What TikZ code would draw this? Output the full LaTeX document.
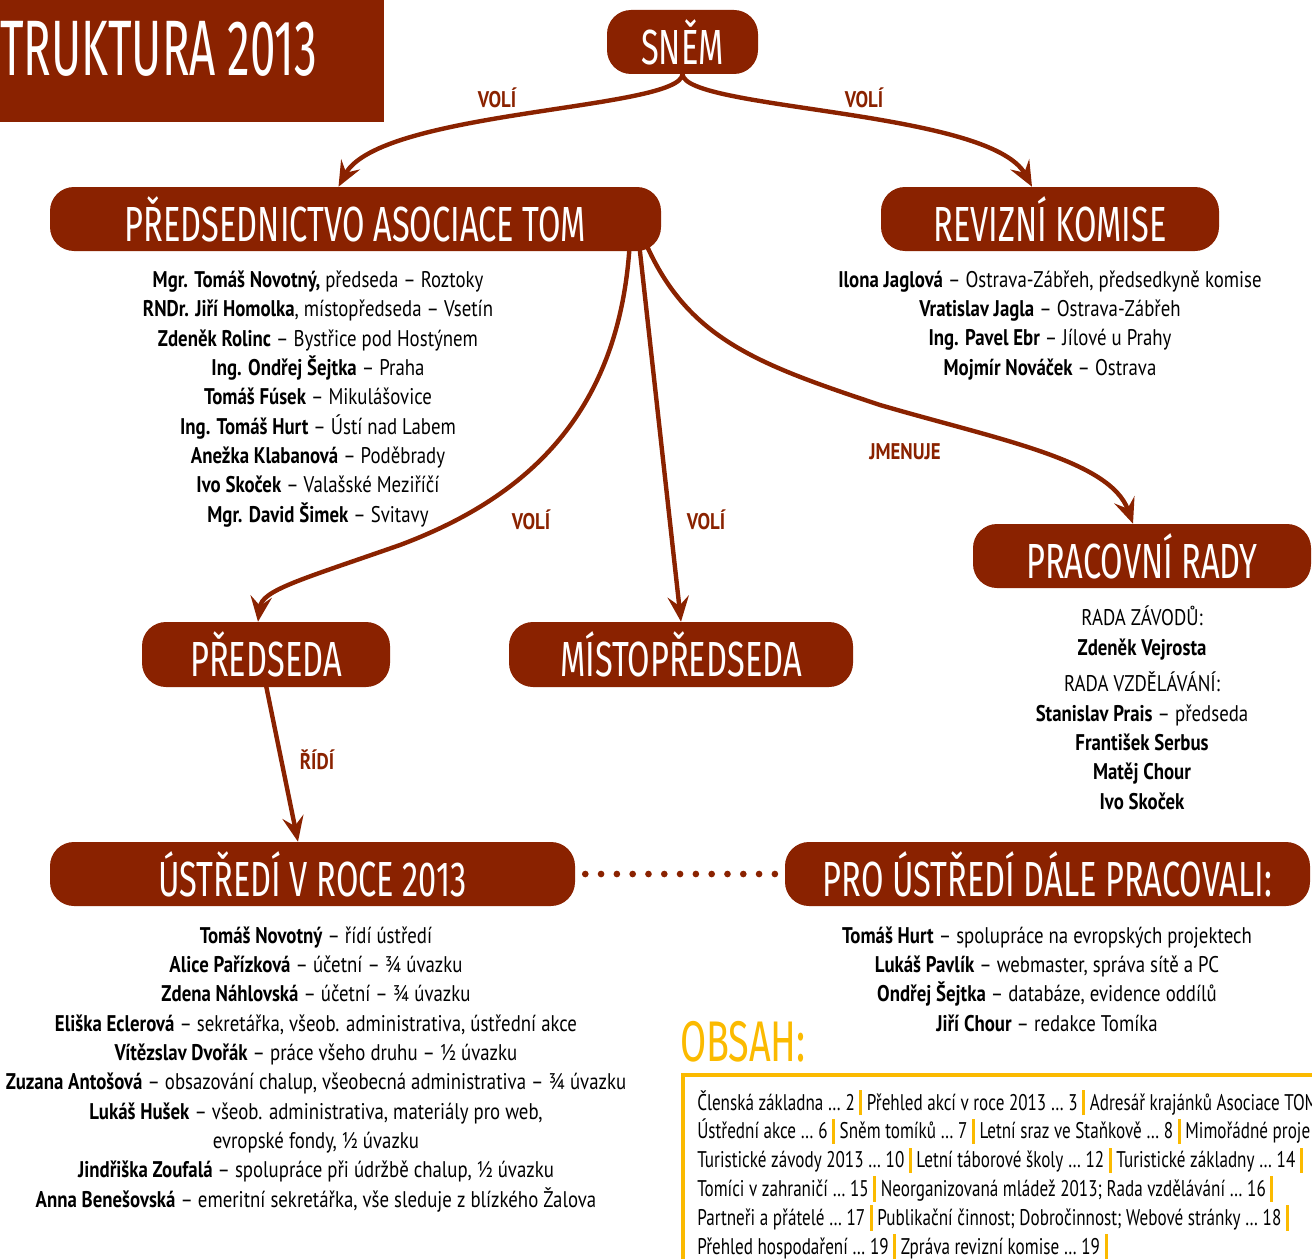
\documentclass[tikz,border=0pt]{standalone}
\usepackage{fontspec}
\setmainfont{PT Sans}[FakeStretch=0.83]
\newfontfamily\obsahfont{PT Sans}[FakeStretch=0.755]
\newfontfamily\headfont{Fira Sans}[FakeStretch=0.66]
\newfontfamily\titlefont{Fira Sans}[FakeStretch=0.58]
\usetikzlibrary{arrows.meta,calc}
\definecolor{tomred}{RGB}{138,34,0}
\definecolor{obsahyellow}{RGB}{251,186,0}
\newcommand\obsahsep{{\color{obsahyellow}\rule[-4pt]{2.2pt}{19pt}}}

\begin{document}
\begin{tikzpicture}[x=0.75pt,y=0.75pt,yscale=-1,xscale=1,
		headbox/.style={fill=tomred, text=white, rounded corners=18pt, inner sep=0pt, minimum height=48pt, font=\headfont\fontsize{37}{40}\selectfont},
		people/.style={anchor=base, align=center, inner sep=0pt, font=\fontsize{17}{22}\selectfont},
		relation/.style={text=tomred, font=\bfseries\fontsize{17}{20}\selectfont},
		link/.style={draw=tomred, line width=3.3pt, -{Stealth[length=19pt,width=16pt,inset=7pt]}}]
		\useasboundingbox (0,0) rectangle (1312,1259);
		
		%title
		\fill [tomred] (0,0) rectangle (384,122);
		\node [anchor=base west, inner sep=0pt, text=white, font=\titlefont\fontsize{59}{60}\selectfont] (nadpis) at (0,76) {TRUKTURA 2013};
		
		%boxes
		\node [headbox, minimum width=113.25pt] (snem) at (682.5,42) {SNĚM};
		\node [headbox, minimum width=458.25pt] (predsednictvo) at (355.5,219) {PŘEDSEDNICTVO ASOCIACE TOM};
		\node [headbox, minimum width=253.5pt] (revize) at (1050,219) {REVIZNÍ KOMISE};
		\node [headbox, minimum width=253.5pt] (pracrady) at (1142,556) {PRACOVNÍ RADY};
		\node [headbox, minimum width=186pt, minimum height=48.75pt] (predseda) at (266,654.5) {PŘEDSEDA};
		\node [headbox, minimum width=258pt, minimum height=48.75pt] (mistopr) at (681,654.5) {MÍSTOPŘEDSEDA};
		\node [headbox, minimum width=393.75pt] (ustredi) at (312.5,874) {ÚSTŘEDÍ V ROCE 2013};
		\node [headbox, minimum width=393.75pt] (proust) at (1047.5,874) {PRO ÚSTŘEDÍ DÁLE PRACOVALI:};
		
		%connectors
		\draw [link] (snem.south) .. controls (680,110) and (380,110) .. ($(predsednictvo.north)+(-17,0)$);
		\draw [link] (snem.south) .. controls (685,110) and (990,110) .. ($(revize.north)+(-18,0)$);
		\draw [link] ($(predsednictvo.south)+(274,-4)$) .. controls (618,420) and (520,500) .. (400,545) .. controls (300,580) and (262,590) .. ($(predseda.north)+(-8,0)$);
		\draw [link] ($(predsednictvo.south)+(284,-4)$) -- (mistopr.north);
		\draw [link] ($(predsednictvo.south)+(292,-4)$) .. controls (690,340) and (760,365) .. (880,405) .. controls (1000,440) and (1110,460) .. ($(pracrady.north)+(-9,0)$);
		\draw [link] ($(predseda.south)+(0,-2)$) -- ($(ustredi.north)+(-14.5,0)$);
		\draw [tomred, line width=5pt, line cap=round, dash pattern=on 0pt off 11.85pt] ($(ustredi.east)+(10,0)$) -- ($(proust.west)+(-9,0)$);
		
		\node [relation] (voli1) at (497,98) {VOLÍ};
		\node [relation] (voli2) at (864,98) {VOLÍ};
		\node [relation] (voli3) at (531,520) {VOLÍ};
		\node [relation] (voli4) at (706,520) {VOLÍ};
		\node [relation] (jmenuje) at (905,452) {JMENUJE};
		\node [relation] (ridi) at (317,760) {ŘÍDÍ};
		
		%members (base = last line)
		\node [people] (clenove) at (318,522) {\textbf{Mgr. Tomáš Novotný,} předseda – Roztoky\\ \textbf{RNDr. Jiří Homolka}, místopředseda – Vsetín\\ \textbf{Zdeněk Rolinc} – Bystřice pod Hostýnem\\ \textbf{Ing. Ondřej Šejtka} – Praha\\ \textbf{Tomáš Fúsek} – Mikulášovice\\ \textbf{Ing. Tomáš Hurt} – Ústí nad Labem\\ \textbf{Anežka Klabanová} – Poděbrady\\ \textbf{Ivo Skoček} – Valašské Meziříčí\\ \textbf{Mgr. David Šimek} – Svitavy};
		\node [people] (revizori) at (1050,375) {\textbf{Ilona Jaglová} – Ostrava-Zábřeh, předsedkyně komise\\ \textbf{Vratislav Jagla} – Ostrava-Zábřeh\\ \textbf{Ing. Pavel Ebr} – Jílové u Prahy\\ \textbf{Mojmír Nováček} – Ostrava};
		\node [people] (radni) at (1142,809) {RADA ZÁVODŮ:\\ \textbf{Zdeněk Vejrosta}\\[5.5pt] RADA VZDĚLÁVÁNÍ:\\ \textbf{Stanislav Prais} – předseda\\ \textbf{František Serbus}\\ \textbf{Matěj Chour}\\ \textbf{Ivo Skoček}};
		\node [people] (zamestnanci) at (316,1207) {\textbf{Tomáš Novotný} – řídí ústředí\\ \textbf{Alice Pařízková} – účetní – ¾ úvazku\\ \textbf{Zdena Náhlovská} – účetní – ¾ úvazku\\ \textbf{Eliška Eclerová} – sekretářka, všeob. administrativa, ústřední akce\\ \textbf{Vítězslav Dvořák} – práce všeho druhu – ½ úvazku\\ \textbf{Zuzana Antošová} – obsazování chalup, všeobecná administrativa – ¾ úvazku\\ \textbf{Lukáš Hušek} – všeob. administrativa, materiály pro web,\\ evropské fondy, ½ úvazku\\ \textbf{Jindřiška Zoufalá} – spolupráce při údržbě chalup, ½ úvazku\\ \textbf{Anna Benešovská} – emeritní sekretářka, vše sleduje z blízkého Žalova};
		\node [people] (spolupracovnici) at (1047,1031) {\textbf{Tomáš Hurt} – spolupráce na evropských projektech\\ \textbf{Lukáš Pavlík} – webmaster, správa sítě a PC\\ \textbf{Ondřej Šejtka} – databáze, evidence oddílů\\ \textbf{Jiří Chour} – redakce Tomíka};
		
		%contents
		\node [anchor=west, inner sep=0pt, text=obsahyellow, font=\headfont\fontsize{43}{46}\selectfont] (obsah) at (680,1042) {OBSAH:};
		\draw [obsahyellow, line width=2.5pt] (683,1259) -- (683,1075) -- (1312,1075);
		\node [anchor=base west, align=left, inner sep=0pt, font=\obsahfont\fontsize{17}{21.6}\selectfont] (kapitoly) at (697,1254) {Členská základna … 2 \obsahsep{} Přehled akcí v roce 2013 … 3 \obsahsep{} Adresář krajánků Asociace TOM\\ Ústřední akce … 6 \obsahsep{} Sněm tomíků … 7 \obsahsep{} Letní sraz ve Staňkově … 8 \obsahsep{} Mimořádné proje\\ Turistické závody 2013 … 10 \obsahsep{} Letní táborové školy … 12 \obsahsep{} Turistické základny … 14 \obsahsep\\ Tomíci v zahraničí … 15 \obsahsep{} Neorganizovaná mládež 2013; Rada vzdělávání … 16 \obsahsep\\ Partneři a přátelé … 17 \obsahsep{} Publikační činnost; Dobročinnost; Webové stránky … 18 \obsahsep\\ Přehled hospodaření … 19 \obsahsep{} Zpráva revizní komise … 19 \obsahsep};
		
\end{tikzpicture}
\end{document}
